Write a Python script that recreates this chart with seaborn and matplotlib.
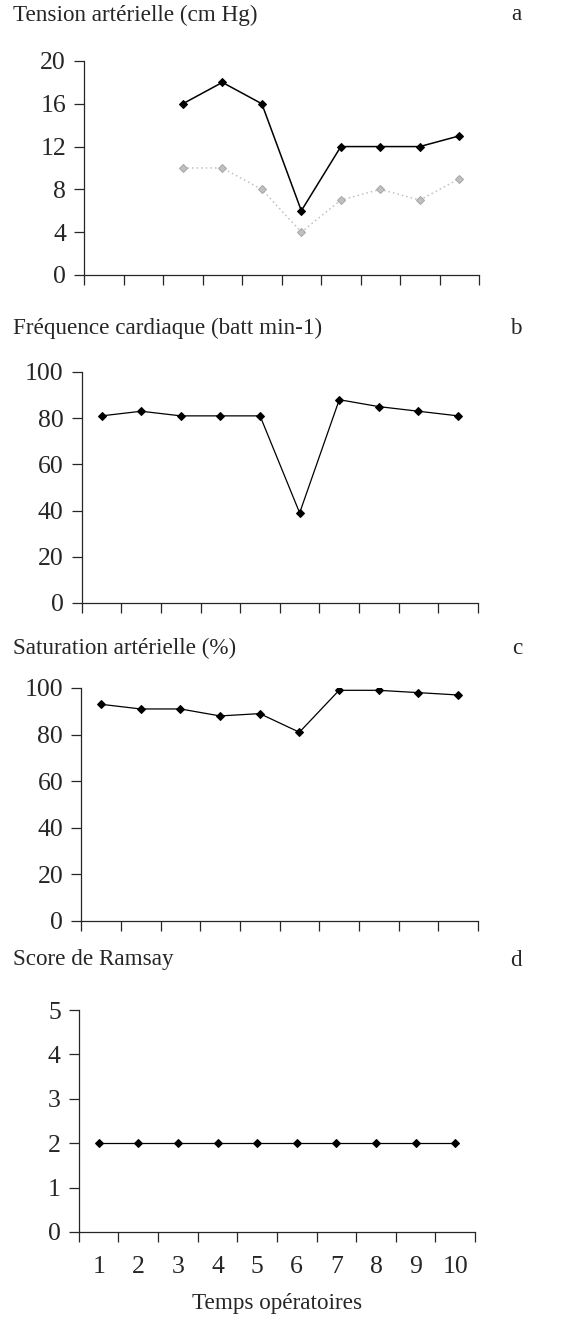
import numpy as np
import pandas as pd
import seaborn as sns
import matplotlib.pyplot as plt

# Data
temps = [1, 2, 3, 4, 5, 6, 7, 8, 9, 10]
temps_ta = [3, 4, 5, 6, 7, 8, 9, 10]
ta_systolique = [16, 18, 16, 6, 12, 12, 12, 13]
ta_diastolique = [10, 10, 8, 4, 7, 8, 7, 9]
freq_cardiaque = [81, 83, 81, 81, 81, 39, 88, 85, 83, 81]
saturation = [93, 91, 91, 88, 89, 81, 99, 99, 98, 97]
ramsay = [2, 2, 2, 2, 2, 2, 2, 2, 2, 2]

titles = ["Tension artérielle (cm Hg)", "Fréquence cardiaque (batt min-1)",
          "Saturation artérielle (%)", "Score de Ramsay"]
letters = ["a", "b", "c", "d"]
yticks = [np.arange(0, 21, 4), np.arange(0, 101, 20),
          np.arange(0, 101, 20), np.arange(0, 6, 1)]

sns.set_style("ticks")
plt.rcParams['font.family'] = ['Liberation Serif', 'DejaVu Serif']

fig = plt.figure(figsize=(5.8, 13.2), dpi=100)

# axes boxes [left, bottom, width, height] in figure fraction
boxes = [[0.145, 0.7917, 0.681, 0.1621],
         [0.141, 0.5432, 0.683, 0.1750],
         [0.140, 0.3023, 0.684, 0.1765],
         [0.136, 0.0667, 0.683, 0.1681]]
title_y = [15, 328, 648, 960]

df_ta = pd.DataFrame({"temps": temps_ta, "sys": ta_systolique, "dia": ta_diastolique})
df = pd.DataFrame({"temps": temps, "fc": freq_cardiaque, "sat": saturation, "ramsay": ramsay})

axes = [fig.add_axes(b) for b in boxes]

sns.lineplot(data=df_ta, x="temps", y="sys", ax=axes[0], color="black", lw=1.1,
             marker="D", markersize=4, markeredgecolor="black")
sns.lineplot(data=df_ta, x="temps", y="dia", ax=axes[0], color="#c0c0c0", lw=1.1,
             linestyle=(0, (1, 2)), marker="D", markersize=4, markeredgecolor="#a8a8a8")
sns.lineplot(data=df, x="temps", y="fc", ax=axes[1], color="black", lw=0.9,
             marker="D", markersize=4, markeredgecolor="black")
sns.lineplot(data=df, x="temps", y="sat", ax=axes[2], color="black", lw=0.9,
             marker="D", markersize=4, markeredgecolor="black")
sns.lineplot(data=df, x="temps", y="ramsay", ax=axes[3], color="black", lw=0.9,
             marker="D", markersize=4, markeredgecolor="black")

for i, ax in enumerate(axes):
    yt = yticks[i]
    ax.set_ylim(yt[0], yt[-1])
    ax.set_yticks(yt)
    ax.set_xlim(0.5, 10.5)
    ax.set_xticks(temps)
    ax.set_xticks(np.arange(0.5, 11, 1), minor=True)
    ax.tick_params(axis="x", which="major", length=0, labelsize=18.5, pad=17)
    ax.tick_params(axis="x", which="minor", length=7, width=0.9, direction="out")
    ax.tick_params(axis="y", length=7, width=0.9, labelsize=18.5, pad=6)
    if i < 3:
        ax.set_xticklabels([])
    ax.set_xlabel("")
    ax.set_ylabel("")
    ax.spines["top"].set_visible(False)
    ax.spines["right"].set_visible(False)
    ax.spines["left"].set_linewidth(0.9)
    ax.spines["bottom"].set_linewidth(0.9)
    ax.spines["left"].set_bounds(yt[0], yt[-1])
    ax.spines["bottom"].set_bounds(0.5, 10.5)
    ax.patch.set_alpha(0)
    fig.text(13 / 580, 1 - title_y[i] / 1320, titles[i], fontsize=16.7,
             ha="left", va="center")
    fig.text(522 / 580, 1 - title_y[i] / 1320, letters[i], fontsize=16.7,
             ha="right", va="center")

axes[3].set_xlabel("Temps opératoires", fontsize=16.7, labelpad=11)

plt.savefig("out.png", dpi=100)
